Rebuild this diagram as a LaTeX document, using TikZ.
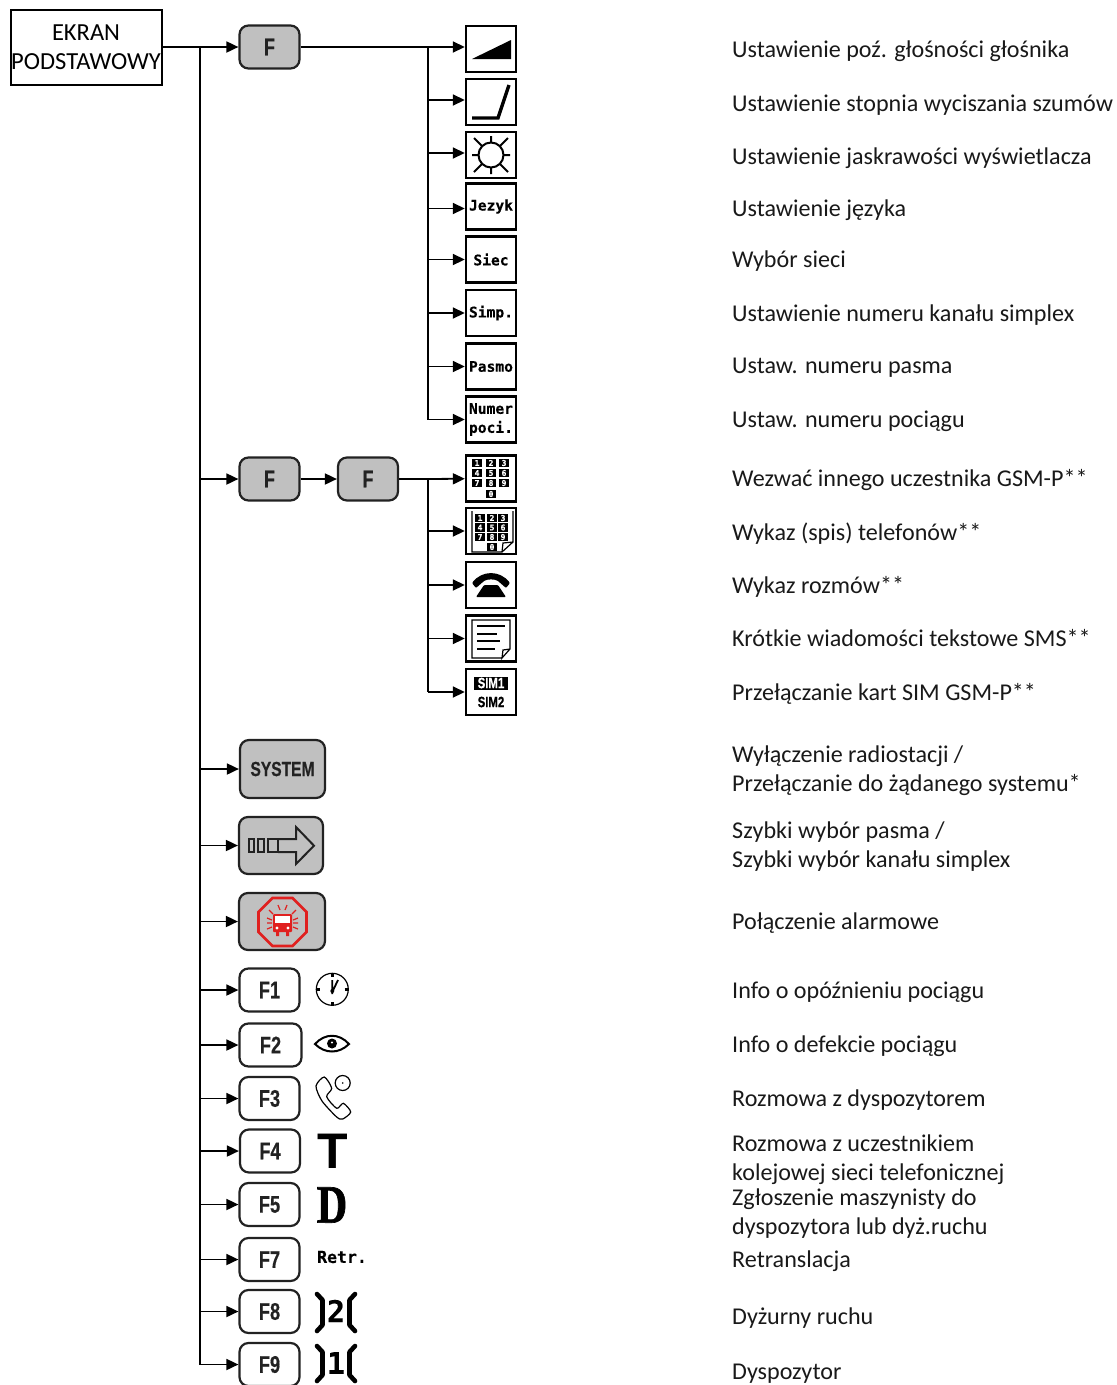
\documentclass[tikz,border=0pt]{standalone}
\usepackage{fontspec}
\usetikzlibrary{arrows.meta}
\setmainfont{Carlito}
\newfontfamily\keyfont[FakeStretch=0.76,FakeBold=0.4]{Liberation Sans}
\newfontfamily\lcdfont[FakeBold=0.3]{DejaVu Sans Mono}
\newfontfamily\slabfont[FakeStretch=0.78,FakeBold=1.2]{Liberation Serif}
\newfontfamily\plainfont{Liberation Sans}
\definecolor{keygray}{HTML}{C0C0C0}
\definecolor{keyink}{HTML}{222222}
\definecolor{alarmred}{HTML}{E0201F}
\tikzset{
    labeltext/.style = {anchor=base west,inner sep=0,align=left,font=\fontsize{24.1}{29}\selectfont,text=black!90},
    startbox/.style = {draw=black,line width=2,minimum width=151,minimum height=75,inner sep=0,align=center,font=\fontsize{24.5}{29}\selectfont},
    keynode/.style = {draw=keyink,line width=2.2,rounded corners=9,minimum width=60,minimum height=43,inner sep=0,font=\keyfont\bfseries\fontsize{24}{24}\selectfont,text=keyink},
    keynodeg/.style = {keynode,fill=keygray},
    iconbox/.style = {draw=black,line width=2.4,minimum width=50,minimum height=46,inner sep=0,align=center,font=\lcdfont\bfseries\fontsize{14.6}{19}\selectfont},
    keycap/.style = {fill=black,text=white,minimum width=10,minimum height=8.4,inner sep=0,font=\lcdfont\bfseries\fontsize{8}{8}\selectfont},
    icontext/.style = {inner sep=0,anchor=center},
    thinink/.style = {draw=black,line width=1.2},
    edgen/.style = {-,line width=1.8,black},
    edgea/.style = {-{Triangle[length=12,width=11]},line width=1.8,black}
}
\newcommand{\keyrow}[8]{%
\node[keycap] at (#2,#5) (#1a) {#6};
\node[keycap] at (#3,#5) (#1b) {#7};
\node[keycap] at (#4,#5) (#1c) {#8};}

\begin{document}
\begin{tikzpicture}[x=1pt,y=-1pt]
\useasboundingbox (0,0) rectangle (1117,1385);
\coordinate (trunk) at (200,47);
\coordinate (brancha) at (428,47);
\coordinate (branchb) at (428,479);

% left column
\node[startbox,text depth=-1.5] at (86,47) (ekran) {EKRAN\\PODSTAWOWY};
\node[keynodeg] at (269.5,47) (keyf) {F};
\node[keynodeg] at (269.5,479) (keyfa) {F};
\node[keynodeg] at (368,479) (keyfb) {F};
\node[keynodeg,minimum width=85,minimum height=58,font=\keyfont\bfseries\fontsize{20.5}{21}\selectfont] at (282.5,769) (keysys) {SYSTEM};
\node[keynodeg,minimum width=84,minimum height=57] at (281,845.5) (keyband) {};
\node[keynodeg,minimum width=86,minimum height=57] at (282,921.5) (keyalarm) {};
\node[keynode] at (269.5,990) (keyfone) {F1};
\node[keynode,minimum width=62] at (270.5,1045) (keyftwo) {F2};
\node[keynode] at (269.5,1098.5) (keyfthree) {F3};
\node[keynode] at (270,1151) (keyffour) {F4};
\node[keynode] at (269.5,1204.5) (keyffive) {F5};
\node[keynode] at (269.5,1259.5) (keyfseven) {F7};
\node[keynode] at (269.5,1311.5) (keyfeight) {F8};
\node[keynode] at (269.5,1364.5) (keyfnine) {F9};

% icon boxes
\node[iconbox] at (491,49) (icvol) {};
\node[iconbox] at (491,102) (icsq) {};
\node[iconbox] at (491,155) (icsun) {};
\node[iconbox] at (491,206.5) (icjez) {Jezyk};
\node[iconbox] at (491,259.5) (icsiec) {Siec};
\node[iconbox] at (491,313) (icsimp) {Simp.};
\node[iconbox] at (491,366.5) (icpasmo) {Pasmo};
\node[iconbox] at (491,419.5) (icnum) {Numer\\poci.};
\node[iconbox] at (491,478.5) (icpad) {};
\node[iconbox] at (491,531) (icbook) {};
\node[iconbox] at (491,585) (icphone) {};
\node[iconbox] at (491,638.5) (icsms) {};
\node[iconbox] at (491,692) (icsim) {};

% connectors
\draw[edgea] (ekran) -- (keyf);
\draw[edgen] (trunk) -- (trunk |- keyfeight);
\draw[edgen] (keyf) -- (brancha);
\draw[edgen] (brancha) -- (brancha |- icnum);
\draw[edgea] (brancha) -- ([yshift=2]icvol.west);
\draw[edgea] ([yshift=2]icsq.west -| brancha) -- ([yshift=2]icsq.west);
\draw[edgea] ([yshift=2]icsun.west -| brancha) -- ([yshift=2]icsun.west);
\draw[edgea] ([yshift=-2]icjez.west -| brancha) -- ([yshift=-2]icjez.west);
\draw[edgea] (icsiec -| brancha) -- (icsiec);
\draw[edgea] (icsimp -| brancha) -- (icsimp);
\draw[edgea] (icpasmo -| brancha) -- (icpasmo);
\draw[edgea] (icnum -| brancha) -- (icnum);
\draw[edgea] (keyfa -| trunk) -- (keyfa);
\draw[edgea] (keyfa) -- (keyfb);
\draw[edgen] (keyfb) -- (branchb);
\draw[edgen] (branchb) -- (branchb |- icsim);
\draw[edgea] (branchb) -- (icpad);
\draw[edgea] (icbook -| branchb) -- (icbook);
\draw[edgea] (icphone -| branchb) -- (icphone);
\draw[edgea] (icsms -| branchb) -- (icsms);
\draw[edgea] (icsim -| branchb) -- (icsim);
\draw[edgea] (keysys -| trunk) -- (keysys);
\draw[edgea] (keyband -| trunk) -- (keyband);
\draw[edgea] (keyalarm -| trunk) -- (keyalarm);
\draw[edgea] (keyfone -| trunk) -- (keyfone);
\draw[edgea] (keyftwo -| trunk) -- (keyftwo);
\draw[edgea] (keyfthree -| trunk) -- (keyfthree);
\draw[edgea] (keyffour -| trunk) -- (keyffour);
\draw[edgea] (keyffive -| trunk) -- (keyffive);
\draw[edgea] (keyfseven -| trunk) -- (keyfseven);
\draw[edgea] (keyfeight -| trunk) -- (keyfeight);
\draw[edgea] (trunk) |- (keyfnine);

% drawings inside the boxes
\fill (472,59) -- (511,40) -- (511,59) -- cycle;
\draw[line width=3.4] (472,118) -- (498,118) -- (509,85);
\draw[line width=2] (491,155) circle (12.5);
\draw[line width=2] (491,136) -- (491,143) (491,167) -- (491,174) (472,155) -- (479,155) (503,155) -- (510,155)
  (474,138) -- (482,146) (508,138) -- (500,146) (474,172) -- (482,164) (508,172) -- (500,164);
\keyrow{pa}{477}{491}{504}{463}{1}{2}{3}
\keyrow{pb}{477}{491}{504}{473}{4}{5}{6}
\keyrow{pc}{477}{491}{504}{483}{7}{8}{9}
\node[keycap] at (491,494) (pd) {0};
\draw[line width=1.2] (472,511) -- (472,552) -- (502,552) -- (513,542) -- (513,511);
\draw[line width=1.2] (502,552) -- (503,543) -- (513,542);
\keyrow{ba}{480}{492}{503}{518}{1}{2}{3}
\keyrow{bb}{480}{492}{503}{527.5}{4}{5}{6}
\keyrow{bc}{480}{492}{503}{537}{7}{8}{9}
\node[keycap] at (492,547) (bd) {0};
\fill[rounded corners=1] (472,583) .. controls (482,570) and (500,570) .. (510,583) -- (506,588) -- (498,581) .. controls (494,579) and (488,579) .. (484,581) -- (476,588) -- cycle;
\fill[rounded corners=1] (476,597) -- (484,585) -- (498,585) -- (506,597) -- cycle;
\draw[line width=1.2] (502,658) -- (472,658) -- (472,620) -- (510,620) -- (510,649) -- (502,658) -- (503,650) -- (510,649);
\draw[line width=1.2] (477,626) -- (505,626) (477,634) -- (497,634) (477,641) -- (500,641) (477,649) -- (495,649);
\node[fill=black,text=white,minimum width=34,minimum height=13,inner sep=0,font=\keyfont\bfseries\fontsize{15}{15}\selectfont] at (491,683) (simone) {SIM1};
\node[inner sep=0,text=black,font=\keyfont\bfseries\fontsize{15}{15}\selectfont] at (491,702) (simtwo) {SIM2};

% band arrow
\draw[keyink,line width=2] (249,839) rectangle (254,852) (258,839) rectangle (264,852) (268,839) rectangle (278,852);
\draw[keyink,line width=2] (278,839) -- (296,839) -- (296,827) -- (314,845.7) -- (296,864) -- (296,852) -- (278,852);

% alarm sign
\draw[alarmred,line width=2.8] (272.5,898) -- (292.5,898) -- (306.5,912) -- (306.5,932) -- (292.5,946) -- (272.5,946) -- (258.5,932) -- (258.5,912) -- cycle;
\fill[alarmred,rounded corners=1] (273,914) rectangle (292,932);
\fill[alarmred] (276,932) rectangle (279,936) (286,932) rectangle (289,936);
\fill[white] (275,916) rectangle (290,923);
\fill[white] (277,928) circle (1.6) (288,928) circle (1.6);
\draw[alarmred,line width=1.2] (278,905) -- (280,910) (287,905) -- (285,910) (269,910) -- (273,914) (296,910) -- (292,914)
  (267,918) -- (272,920) (267,923) -- (272,923) (267,929) -- (272,927) (298,918) -- (293,920) (298,923) -- (293,923) (298,929) -- (293,927);

% clock, eye, telephone
\draw[thinink] (332.3,989.3) circle (16);
\draw[line width=2.6] (332.3,973) -- (332.3,977) (332.3,1002) -- (332.3,1006) (316,989.3) -- (320,989.3) (344.5,989.3) -- (348.5,989.3);
\draw[line width=1.8] (332.3,994) -- (332.3,980) (332.3,992) -- (338,980);
\fill (332.3,991) circle (2);
\draw[line width=2] (315,1044) .. controls (325,1033) and (339,1033) .. (349,1044) .. controls (339,1054) and (325,1054) .. (315,1044) -- cycle;
\fill (332,1043.5) circle (5);
\fill[white] (332,1042.5) circle (1.2);
\draw[thinink] plot[smooth cycle,tension=.45] coordinates {(324.3,1077) (316,1086) (322,1101) (336.7,1117) (342.7,1119) (350.7,1112) (343.3,1103.3) (336.7,1108.3) (326.7,1096.7) (331.7,1088.3)};
\draw[thinink] (342.7,1083) circle (7.5);
\fill (342.7,1083) circle (0.9);

% brackets
\draw[line width=4.6,line join=round,line cap=round] (317,1294) -- (322.5,1300) -- (322.5,1325) -- (317,1331) (355,1294) -- (349.5,1300) -- (349.5,1325) -- (355,1331);
\draw[line width=4.6,line join=round,line cap=round] (317,1346) -- (322.5,1352) -- (322.5,1375) -- (317,1381) (355,1346) -- (349.5,1352) -- (349.5,1375) -- (355,1381);

% glyphs next to the keys
\node[icontext,font=\plainfont\bfseries\fontsize{50}{50}\selectfont] at (333,1151) (gt) {T};
\node[icontext,font=\slabfont\bfseries\fontsize{54}{54}\selectfont] at (332,1205) (gd) {D};
\node[icontext,font=\lcdfont\bfseries\fontsize{16.5}{17}\selectfont] at (342,1257) (gretr) {Retr.};
\node[icontext,font=\lcdfont\bfseries\fontsize{30}{30}\selectfont] at (336,1311) (gtwo) {2};
\node[icontext,font=\lcdfont\bfseries\fontsize{30}{30}\selectfont] at (336,1363) (gone) {1};

% descriptions
\node[labeltext] at (732,57) (la) {Ustawienie poź. głośności głośnika};
\node[labeltext] at (732,111) (lb) {Ustawienie stopnia wyciszania szumów};
\node[labeltext] at (732,164) (lc) {Ustawienie jaskrawości wyświetlacza};
\node[labeltext] at (732,216) (ld) {Ustawienie języka};
\node[labeltext] at (732,267) (le) {Wybór sieci};
\node[labeltext] at (732,321) (lf) {Ustawienie numeru kanału simplex};
\node[labeltext] at (732,373) (lg) {Ustaw. numeru pasma};
\node[labeltext] at (732,427) (lh) {Ustaw. numeru pociągu};
\node[labeltext] at (732,486) (li) {Wezwać innego uczestnika GSM-P**};
\node[labeltext] at (732,540) (lj) {Wykaz (spis) telefonów**};
\node[labeltext] at (732,593) (lk) {Wykaz rozmów**};
\node[labeltext] at (732,646) (ll) {Krótkie wiadomości tekstowe SMS**};
\node[labeltext] at (732,700) (lm) {Przełączanie kart SIM GSM-P**};
\node[labeltext] at (732,791) (ln) {Wyłączenie radiostacji /\\Przełączanie do żądanego systemu*};
\node[labeltext] at (732,867) (lo) {Szybki wybór pasma /\\Szybki wybór kanału simplex};
\node[labeltext] at (732,929) (lp) {Połączenie alarmowe};
\node[labeltext] at (732,998) (lq) {Info o opóźnieniu pociągu};
\node[labeltext] at (732,1052) (lr) {Info o defekcie pociągu};
\node[labeltext] at (732,1106) (ls) {Rozmowa z dyspozytorem};
\node[labeltext] at (732,1180) (lt) {Rozmowa z uczestnikiem\\kolejowej sieci telefonicznej};
\node[labeltext] at (732,1234) (lu) {Zgłoszenie maszynisty do\\dyspozytora lub dyż.ruchu};
\node[labeltext] at (732,1267) (lv) {Retranslacja};
\node[labeltext] at (732,1324) (lw) {Dyżurny ruchu};
\node[labeltext] at (732,1379) (lx) {Dyspozytor};
\end{tikzpicture}
\end{document}
